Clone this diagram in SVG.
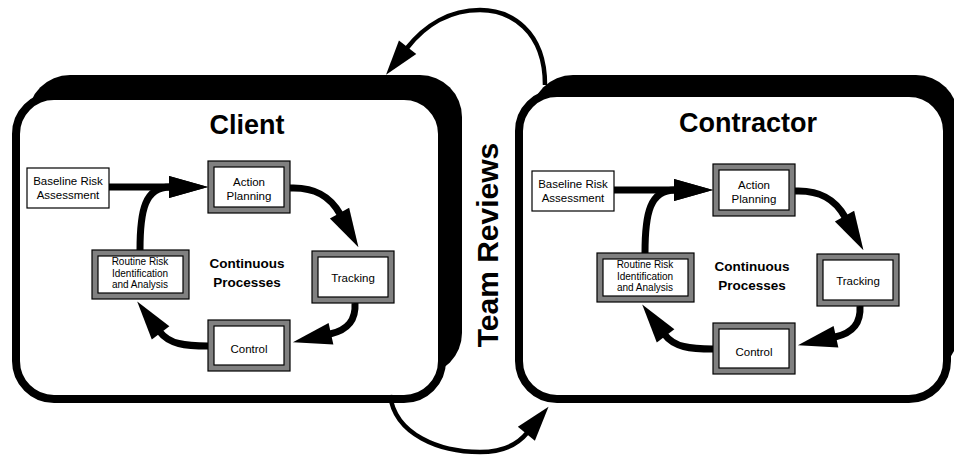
<svg xmlns="http://www.w3.org/2000/svg" width="954" height="455" viewBox="0 0 954 455">
<style>
text{font-family:"Liberation Sans",Arial,sans-serif;fill:#000}
.title{font-size:27px;font-weight:bold;text-anchor:middle}
.mid{font-size:13.5px;font-weight:bold;text-anchor:middle}
.lbl{font-size:11.5px;text-anchor:middle}
.rt{font-size:10px;text-anchor:middle}
.shadow{fill:#000}
.frame{fill:#fff;stroke:#000;stroke-width:8}
.plain{fill:#fff;stroke:#000;stroke-width:1.2}
.gray{fill:#808080;stroke:#000;stroke-width:1.2}
.inner{fill:#fff;stroke:#000;stroke-width:1.2}
.flow{fill:none;stroke:#000;stroke-width:7;marker-end:url(#head)}
.loop{fill:none;stroke:#000;stroke-width:4.5;marker-end:url(#head2)}
</style>
<defs>
<marker id="head" markerUnits="userSpaceOnUse" markerWidth="40" markerHeight="22" refX="1" refY="11" orient="auto" overflow="visible">
<path d="M0,0 L39,11 L0,22 Z" fill="#000"/>
</marker>
<marker id="head2" markerUnits="userSpaceOnUse" markerWidth="36" markerHeight="22" refX="1" refY="11" orient="auto" overflow="visible">
<path d="M0,0 L35,11 L0,22 Z" fill="#000"/>
</marker>
</defs>

<g id="client">
<rect class="shadow" x="28" y="75" width="434" height="300" rx="42"/>
<rect class="frame" x="16" y="96" width="426" height="303" rx="38"/>
<text class="title" x="247" y="134">Client</text>
<text class="mid" x="247" y="268">Continuous</text>
<text class="mid" x="247" y="287">Processes</text>
</g>

<g id="contractor">
<rect class="shadow" x="531" y="75" width="427" height="300" rx="42"/>
<rect class="frame" x="519" y="93" width="428" height="306" rx="38"/>
<text class="title" x="748" y="132">Contractor</text>
<text class="mid" x="752" y="271">Continuous</text>
<text class="mid" x="752" y="290">Processes</text>
</g>

<g id="team-reviews-label">
<text x="0" y="0" transform="translate(498,245) rotate(-90)" style="font-size:30px;font-weight:bold;text-anchor:middle">Team Reviews</text>
</g>

<g id="connectors">
<path class="loop" d="M545,85 C545,30 510,10 480,10 C450,10 425,25 407,48"/>
<path class="loop" d="M390,395 C395,435 440,452 480,452 C502,452 518,444 527,433"/>
<path class="flow" d="M109,187 L170,187"/>
<path class="flow" d="M140,250 C140,210 145,187 170,187"/>
<path class="flow" d="M290,188 C315,187 330,196 340,214"/>
<path class="flow" d="M355,303 C356,320 348,330 330,334"/>
<path class="flow" d="M208,346 C185,346 169,344 160,332"/>
<path class="flow" d="M614,190 L675,190"/>
<path class="flow" d="M645,253 C645,213 650,190 675,190"/>
<path class="flow" d="M795,191 C820,190 835,199 845,217"/>
<path class="flow" d="M860,306 C861,323 853,333 835,337"/>
<path class="flow" d="M713,349 C690,349 674,347 665,335"/>
</g>

<g id="client-baseline">
<rect class="plain" x="27" y="168" width="82" height="40"/>
<text class="lbl" x="68" y="185">Baseline Risk</text>
<text class="lbl" x="68" y="199">Assessment</text>
</g>
<g id="client-action">
<rect class="gray" x="208" y="161" width="82" height="52"/>
<rect class="inner" x="214" y="167" width="70" height="40"/>
<text class="lbl" x="249" y="186">Action</text>
<text class="lbl" x="249" y="200">Planning</text>
</g>
<g id="client-tracking">
<rect class="gray" x="312" y="251" width="82" height="52"/>
<rect class="inner" x="318" y="257" width="70" height="40"/>
<text class="lbl" x="353" y="282">Tracking</text>
</g>
<g id="client-control">
<rect class="gray" x="208" y="320" width="82" height="51"/>
<rect class="inner" x="214" y="326" width="70" height="39"/>
<text class="lbl" x="249" y="353">Control</text>
</g>
<g id="client-routine">
<rect class="gray" x="92" y="250" width="97" height="49"/>
<rect class="inner" x="98" y="256" width="85" height="37"/>
<text class="rt" x="140" y="265.2">Routine Risk</text>
<text class="rt" x="140" y="276.5">Identification</text>
<text class="rt" x="140" y="287.8">and Analysis</text>
</g>

<g id="contractor-baseline">
<rect class="plain" x="532" y="171" width="82" height="40"/>
<text class="lbl" x="573" y="188">Baseline Risk</text>
<text class="lbl" x="573" y="202">Assessment</text>
</g>
<g id="contractor-action">
<rect class="gray" x="713" y="164" width="82" height="52"/>
<rect class="inner" x="719" y="170" width="70" height="40"/>
<text class="lbl" x="754" y="189">Action</text>
<text class="lbl" x="754" y="203">Planning</text>
</g>
<g id="contractor-tracking">
<rect class="gray" x="817" y="254" width="82" height="52"/>
<rect class="inner" x="823" y="260" width="70" height="40"/>
<text class="lbl" x="858" y="285">Tracking</text>
</g>
<g id="contractor-control">
<rect class="gray" x="713" y="323" width="82" height="51"/>
<rect class="inner" x="719" y="329" width="70" height="39"/>
<text class="lbl" x="754" y="356">Control</text>
</g>
<g id="contractor-routine">
<rect class="gray" x="597" y="253" width="97" height="49"/>
<rect class="inner" x="603" y="259" width="85" height="37"/>
<text class="rt" x="645" y="268.2">Routine Risk</text>
<text class="rt" x="645" y="279.5">Identification</text>
<text class="rt" x="645" y="290.8">and Analysis</text>
</g>
</svg>
